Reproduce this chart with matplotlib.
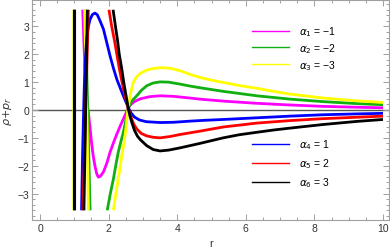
import numpy as np
import matplotlib
matplotlib.use("Agg")  # no display needed
import matplotlib.pyplot as plt
from matplotlib.ticker import MultipleLocator

nan = np.nan

# ── curves (NaN splits separate branches) ──
# alpha1 = -1 (magenta)
r_a1 = [1.245, 1.28, 1.31, 1.35, 1.38, 1.41, 1.46, 1.50, 1.55, 1.60, 1.65, 1.70, 1.76,
        1.85, 1.95, 2.04, 2.14, 2.24, 2.34, 2.43, 2.50, 2.57, 2.65, 2.75, 2.92, 3.2, 3.5,
        3.9, 4.37, 4.66, 5.34, 6.32, 7.29, 8.26, 9.23, 10.0]
v_a1 = [3.6, 2.4, 1.5, 0.7, 0.2, -0.1, -0.65, -1.16, -1.64, -2.0, -2.28, -2.41, -2.38,
        -2.22, -1.9, -1.52, -1.18, -0.86, -0.57, -0.32, -0.13, 0.08, 0.2, 0.3, 0.4, 0.48, 0.51,
        0.49, 0.43, 0.39, 0.32, 0.24, 0.18, 0.13, 0.10, 0.08]

# alpha2 = -2 (green)
r_a2 = [1.32, 1.36, 1.40, 1.46, nan,
        1.96, 2.05, 2.14, 2.21, 2.28, 2.36, 2.43, 2.50, 2.57, 2.64, 2.72, 2.82, 2.95, 3.11,
        3.3, 3.5, 3.75, 4.08, 4.37, 4.66, 5.34, 6.32, 7.29, 8.26, 9.23, 10.0]
v_a2 = [3.6, 1.5, -0.5, -3.6, nan,
        -3.6, -3.0, -2.47, -1.98, -1.52, -1.12, -0.8, -0.38, 0.05, 0.25, 0.38, 0.51, 0.7, 0.87,
        0.97, 1.01, 1.0, 0.93, 0.86, 0.8, 0.67, 0.51, 0.39, 0.30, 0.23, 0.19]

# alpha3 = -3 (yellow)
r_a3 = [0.985, 0.985, nan, 1.30, 1.34, 1.37, 1.41, nan,
        2.14, 2.21, 2.28, 2.34, 2.40, 2.46, 2.51, 2.55, 2.59, 2.65, 2.72, 2.82, 2.92, 3.05,
        3.21, 3.5, 3.8, 4.08, 4.37, 4.66, 5.0, 5.34, 5.8, 6.32, 6.8, 7.29, 8.26, 9.23, 10.0]
v_a3 = [-3.6, 3.6, nan, 3.6, 1.5, -0.5, -3.6, nan,
        -3.6, -3.0, -2.47, -2.0, -1.52, -1.1, -0.6, -0.15, 0.25, 0.65, 1.0, 1.2, 1.31, 1.4,
        1.47, 1.52, 1.5, 1.41, 1.28, 1.17, 1.07, 0.99, 0.88, 0.78, 0.67, 0.57, 0.43, 0.33, 0.27]

# alpha4 = 1 (blue)
r_a4 = [1.01, 1.01, nan,
        1.21, 1.24, 1.28, 1.31, 1.36, 1.41, 1.46, 1.53, 1.60, 1.67, 1.75, 1.85, 1.95, 2.04,
        2.14, 2.24, 2.36, 2.48, 2.57, 2.65, 2.75, 2.9, 3.1, 3.5, 3.9, 4.37, 4.8, 5.34, 6.32,
        7.29, 8.26, 9.23, 10.0]
v_a4 = [-3.6, 3.6, nan,
        -3.6, -1.6, 0.4, 1.6, 2.55, 3.0, 3.26, 3.43, 3.48, 3.42, 3.2, 2.9, 2.4, 1.95,
        1.5, 1.1, 0.72, 0.36, 0.1, -0.1, -0.25, -0.36, -0.42, -0.45, -0.44, -0.4, -0.37, -0.34, -0.28,
        -0.22, -0.17, -0.14, -0.12]

# alpha5 = 2 (red)
r_a5 = [1.25, 1.33, 1.41, nan,
        2.01, 2.09, 2.17, 2.24, 2.31, 2.39, 2.48, 2.57, 2.65, 2.73, 2.82, 2.95, 3.11, 3.3,
        3.5, 3.8, 4.08, 4.37, 4.66, 5.34, 6.32, 7.29, 8.26, 9.23, 10.0]
v_a5 = [-3.6, 0.0, 3.6, nan,
        3.6, 3.0, 2.5, 2.0, 1.5, 1.0, 0.5, 0.08, -0.25, -0.5, -0.68, -0.84, -0.93, -0.98,
        -1.0, -0.95, -0.88, -0.82, -0.76, -0.61, -0.47, -0.38, -0.31, -0.26, -0.22]

# alpha6 = 3 (black)
r_a6 = [1.0, 1.0, nan, 1.28, 1.33, 1.38, nan,
        2.13, 2.2, 2.26, 2.31, 2.38, 2.44, 2.51, 2.57, 2.62, 2.67, 2.75, 2.84, 2.92, 3.11,
        3.3, 3.5, 3.75, 4.08, 4.37, 4.66, 5.0, 5.34, 5.8, 6.32, 6.8, 7.29, 8.26, 9.23, 10.0]
v_a6 = [-3.6, 3.6, nan, -3.6, 0.0, 3.6, nan,
        3.6, 3.0, 2.5, 2.0, 1.5, 1.0, 0.5, 0.08, -0.2, -0.42, -0.72, -0.94, -1.06, -1.28,
        -1.42, -1.47, -1.44, -1.36, -1.28, -1.2, -1.1, -1.0, -0.89, -0.8, -0.72, -0.65, -0.52, -0.41, -0.34]

labels = ["$\\alpha_1$ = \u22121", "$\\alpha_2$ = \u22122", "$\\alpha_3$ = \u22123",
          "$\\alpha_4$ = 1", "$\\alpha_5$ = 2", "$\\alpha_6$ = 3"]
colours = ["#ff00ff", "#10b010", "#ffff00", "#0000ff", "#ff0000", "#000000"]
series = [(r_a1, v_a1), (r_a2, v_a2), (r_a3, v_a3),
          (r_a4, v_a4), (r_a5, v_a5), (r_a6, v_a6)]

x_ticks = [0, 2, 4, 6, 8, 10]
y_ticks = [-3, -2, -1, 0, 1, 2, 3]

# ── figure ─────────────────────────────────────────────────────────
fig = plt.figure(figsize=(3.9, 2.51), dpi=100)
ax = fig.add_axes([0.0833, 0.1195, 0.9137, 0.8765])

ax.axhline(0, color="#555555", linewidth=1.0, zorder=1)

for (r, v), col in zip(series, colours):
    ax.plot(r, v, color=col, linewidth=2.0, solid_capstyle="butt", zorder=2)

ax.set_xlim(-0.22, 10.17)
ax.set_ylim(-3.95, 3.95)
ax.set_xticks(x_ticks)
ax.set_yticks(y_ticks)
ax.set_yticklabels([str(t).replace("-", "\u2212") for t in y_ticks])
ax.xaxis.set_minor_locator(MultipleLocator(0.5))
ax.yaxis.set_minor_locator(MultipleLocator(0.2))
ax.tick_params(which="both", direction="in", top=True, right=True,
               color="#a0a0a0", width=0.7, labelsize=7.5, labelcolor="#333333", pad=2.5)
ax.tick_params(which="major", length=4)
ax.tick_params(which="minor", length=2)
for lab in ax.get_xticklabels() + ax.get_yticklabels():
    lab.set_family("Liberation Sans")
for spine in ax.spines.values():
    spine.set_edgecolor("#a0a0a0")
    spine.set_linewidth(0.8)

ax.set_xlabel("r", fontsize=8, color="#333333", labelpad=3, family="Liberation Sans")
ax.set_ylabel(r"$\rho{+}p_r$", fontsize=8, color="#333333", labelpad=2)

# two frameless legends, like the reference
handles = [plt.Line2D([], [], color=c, linewidth=1.0) for c in colours]
leg_kw = dict(loc="upper left", frameon=False, handlelength=3.6, handletextpad=0.9,
              borderpad=0, borderaxespad=0,
              prop={"family": "Liberation Sans", "size": 7.5})
leg1 = ax.legend(handles[:3], labels[:3], bbox_to_anchor=(0.616, 0.89),
                 labelspacing=0.3, **leg_kw)
ax.add_artist(leg1)
ax.legend(handles[3:], labels[3:], bbox_to_anchor=(0.616, 0.375),
          labelspacing=0.5, **leg_kw)

fig.savefig("out.png", dpi=100)
plt.close(fig)
